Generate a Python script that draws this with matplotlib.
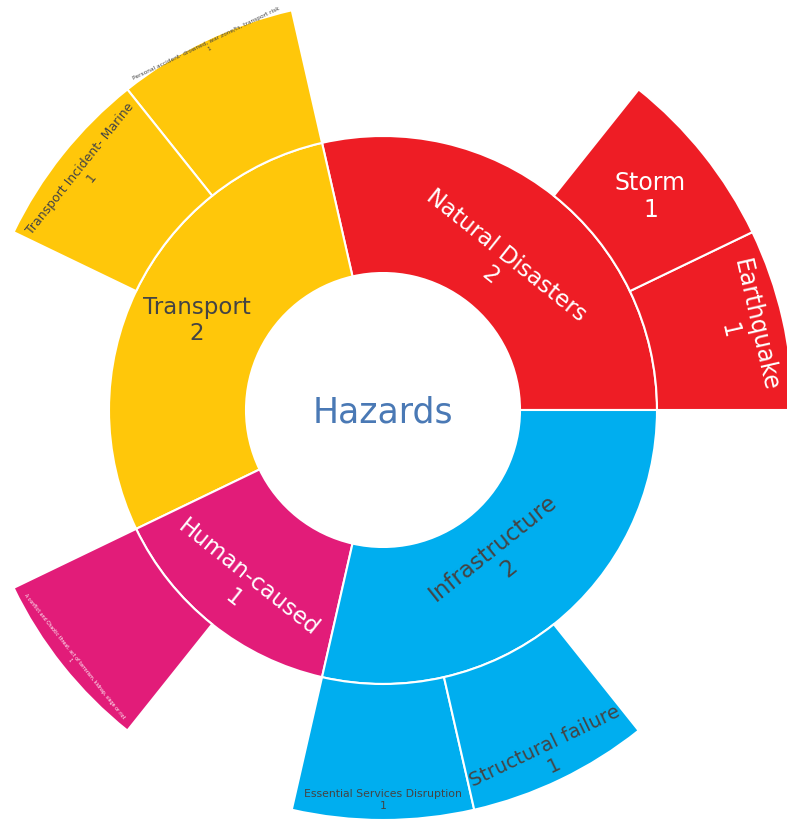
import numpy as np
import matplotlib
matplotlib.use("Agg")
import matplotlib.pyplot as plt
from matplotlib.patches import Wedge, Circle

# sunburst data (branchvalues = remainder: parent value is its own part)
root = "Hazards"
parents = ["Natural Disasters", "Transport", "Human-caused", "Infrastructure"]
parent_values = [2, 2, 1, 2]
parent_colors = ["#EE1D25", "#FFC70A", "#E21C79", "#00AEEF"]

children = ["Earthquake", "Storm",
            "Personal accident- drowned, war zone/ts, transport risk",
            "Transport Incident- Marine",
            "A conflict and Chaotic threat, act of terrorism, kidnap, siege or riot",
            "Essential Services Disruption", "Structural failure"]
child_parents = ["Natural Disasters", "Natural Disasters",
                 "Transport", "Transport",
                 "Human-caused",
                 "Infrastructure", "Infrastructure"]
child_values = [1, 1, 1, 1, 1, 1, 1]

# text styling per label (size pt, radius where the label block sits)
label_size = {"Natural Disasters": 16.5, "Transport": 16.5, "Human-caused": 16.5,
              "Infrastructure": 16.5, "Earthquake": 17, "Storm": 17,
              "Structural failure": 14, "Transport Incident- Marine": 9,
              "Essential Services Disruption": 7.8, children[2]: 4.2, children[4]: 3.4}
label_r = {"Natural Disasters": 185, "Transport": 207, "Human-caused": 228,
           "Infrastructure": 190, "Earthquake": 368, "Storm": 342,
           "Structural failure": 384, "Transport Incident- Marine": 380,
           "Essential Services Disruption": 390, children[2]: 404, children[4]: 398}
dark_text = {"Transport", "Infrastructure"}

R0, R1, R2 = 137, 274, 410

fig = plt.figure(figsize=(7.87, 8.21), dpi=100)
ax = fig.add_axes([0, 0, 1, 1])
ax.set_xlim(-383, 404)
ax.set_ylim(-411, 410)
ax.set_aspect("equal")
ax.axis("off")

total = sum(parent_values) + sum(child_values)
unit = 360.0 / total


def tangential(mid):
    rot = mid - 90
    while rot > 90:
        rot -= 180
    while rot < -90:
        rot += 180
    return rot


def put_label(name, val, mid, color, rot):
    r = label_r[name]
    x = r * np.cos(np.radians(mid))
    y = r * np.sin(np.radians(mid))
    ax.text(x, y, f"{name}\n{val}", ha="center", va="center", rotation=rot,
            rotation_mode="anchor", fontsize=label_size[name], color=color,
            linespacing=1.15, multialignment="center")


start = 0.0
for p, pv, pc in zip(parents, parent_values, parent_colors):
    kids = [(c, v) for c, v, cp in zip(children, child_values, child_parents) if cp == p]
    span = (pv + sum(v for _, v in kids)) * unit
    ax.add_patch(Wedge((0, 0), R1, start, start + span, width=R1 - R0,
                       facecolor=pc, edgecolor="white", linewidth=1.5))
    tcol = "#444444" if p in dark_text else "white"
    mid = start + span / 2
    rot = 0 if p == "Transport" else tangential(mid)
    put_label(p, pv, mid, tcol, rot)

    cs = start
    for c, v in kids:
        cspan = v * unit
        ax.add_patch(Wedge((0, 0), R2, cs, cs + cspan, width=R2 - R1,
                           facecolor=pc, edgecolor="white", linewidth=1.5))
        cmid = cs + cspan / 2
        rot = 0 if c == "Storm" else tangential(cmid)
        put_label(c, v, cmid, tcol, rot)
        cs += cspan
    start += span

ax.add_patch(Circle((0, 0), R0 - 1, facecolor="white", edgecolor="none"))
ax.text(0, -2, root, ha="center", va="center", fontsize=25, color="#4A79B5")

fig.savefig("out.png", dpi=100)
